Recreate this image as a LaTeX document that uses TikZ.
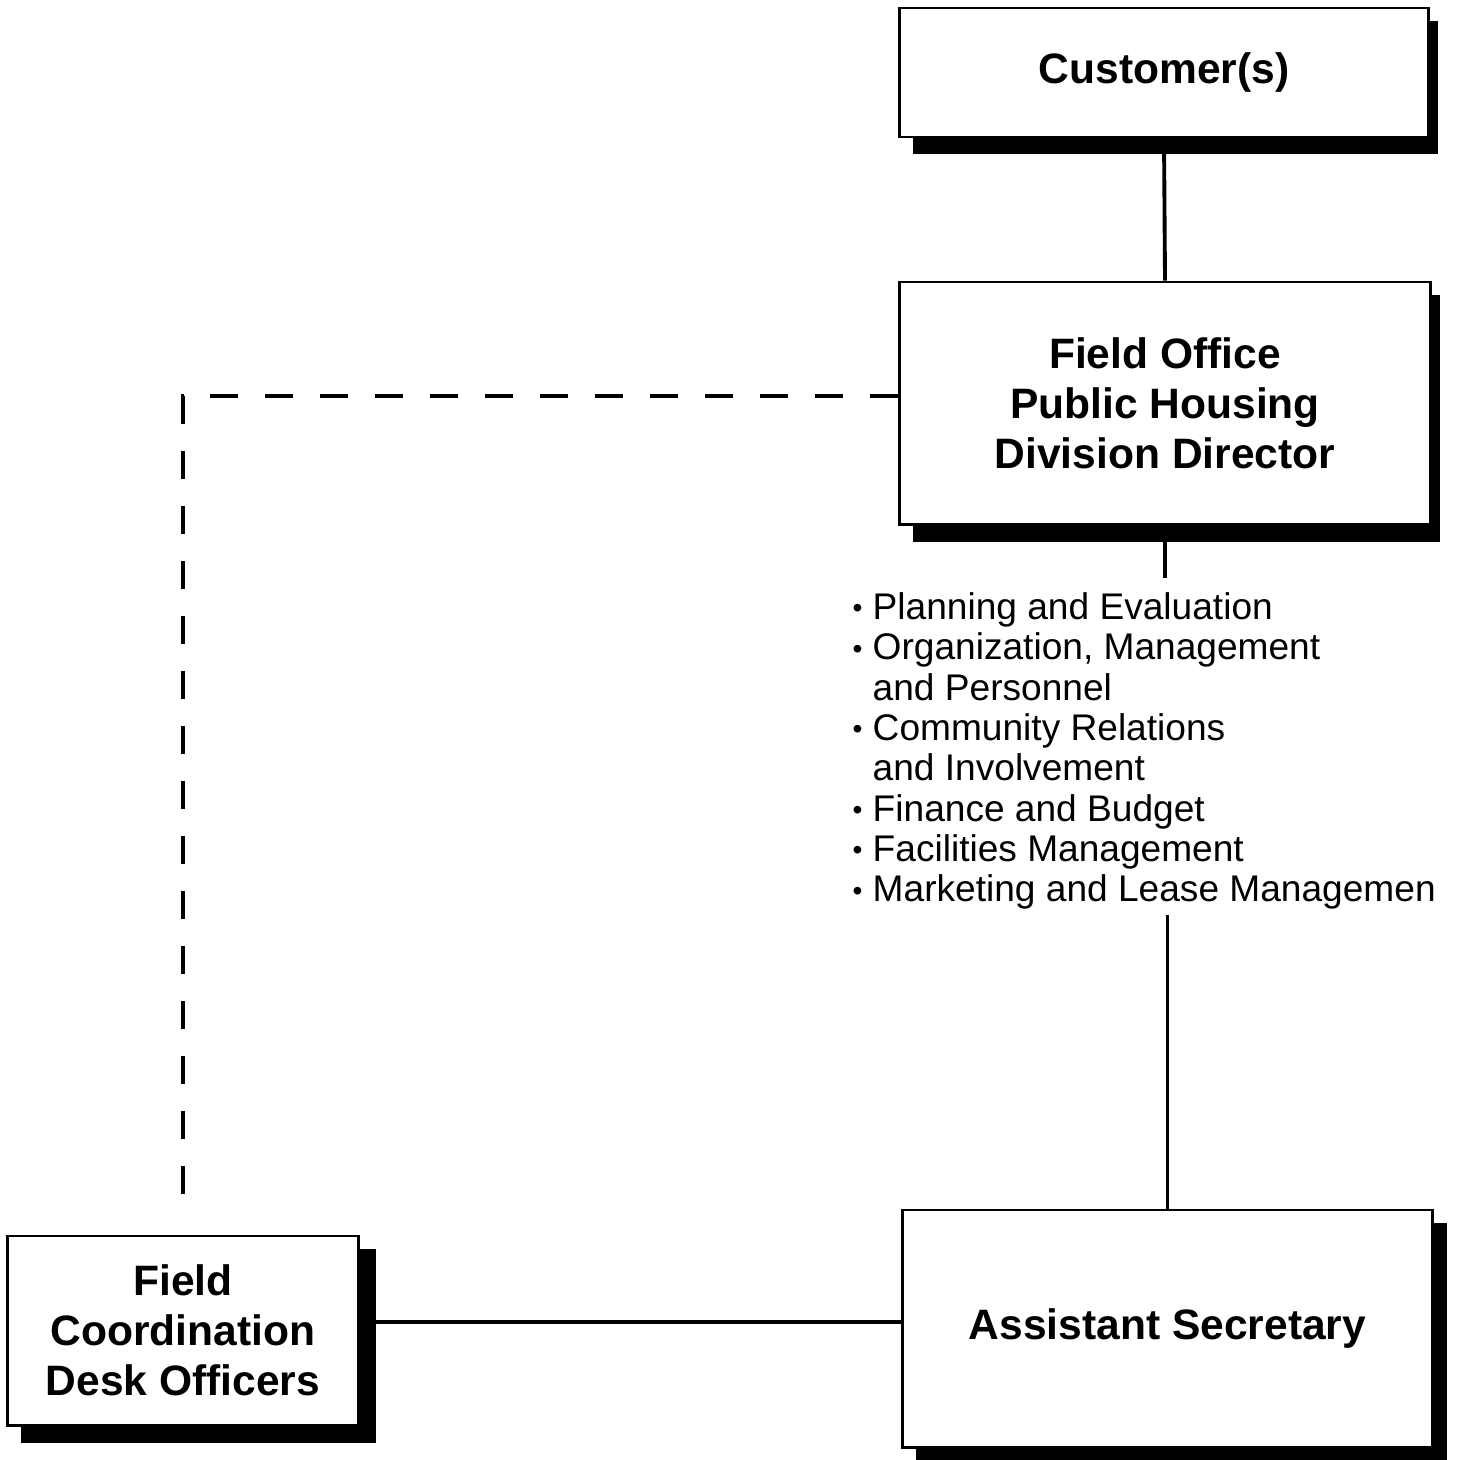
\documentclass[tikz,border=0pt]{standalone}
\usepackage{fontspec}
\setmainfont{Liberation Sans}
\usepackage{tikz}
\usetikzlibrary{backgrounds}

\newcommand{\itm}{\makebox[0.2cm][l]{\raisebox{0.5pt}{\fontsize{8}{8}\selectfont\textbullet}}}
\newcommand{\gap}{\hspace*{0.2cm}}

\begin{document}
\begin{tikzpicture}[x=0.01cm,y=-0.01cm,
			box node/.style={rectangle,draw,line width=0.8pt,fill=white,
				font=\fontsize{12.1}{14.2}\selectfont\bfseries,align=center},
			link/.style={line width=1.1pt},
			dash link/.style={line width=1.1pt,dash pattern=on 0.28cm off 0.27cm}]
			
			\useasboundingbox (0,0) rectangle (1464,1459);
			
			\node[box node,minimum width=5.28cm,minimum height=1.29cm] (cust) at (1164,72.5) {Customer(s)};
			\node[box node,minimum width=5.30cm,minimum height=2.42cm] (dir) at (1165,403)
				{Field Office\\Public Housing\\Division Director};
			\node[box node,minimum width=3.50cm,minimum height=1.89cm] (fcd) at (183,1330.5)
				{Field\\Coordination\\Desk Officers};
			\node[box node,minimum width=5.29cm,minimum height=2.37cm] (asec) at (1167.5,1328.5)
				{Assistant Secretary};
			
			% heavy shadows behind the boxes
			\begin{scope}[on background layer]
				\foreach \n/\dx in {cust/8,dir/8,fcd/16,asec/13}
					\fill ([shift={(15,14)}]\n.north west) rectangle ([shift={(\dx,16)}]\n.south east);
			\end{scope}
			
			% duties of the director
			\node[anchor=north west,inner sep=0pt,align=left,
				font=\fontsize{10.55}{11.47}\selectfont] (duty) at (852,592)
				{\itm Planning and Evaluation\\
				\itm Organization, Management\\
				\gap and Personnel\\
				\itm Community Relations\\
				\gap and Involvement\\
				\itm Finance and Budget\\
				\itm Facilities Management\\
				\itm Marketing and Lease Managemen};
			
			\draw[link] (cust.south) -- (dir.north);
			\draw[link] (dir.south) -- ([yshift=0.14cm]dir.south |- duty.north);
			\draw[link] ([yshift=-0.05cm]asec.north |- duty.south) -- (asec.north);
			\draw[link] ([yshift=0.065cm]fcd.east |- asec.west) -- ([yshift=0.065cm]asec.west);
			\draw[dash link] ([yshift=0.07cm]dir.west) -| ([yshift=0.16cm]fcd.north);
			
		\end{tikzpicture}
\end{document}
